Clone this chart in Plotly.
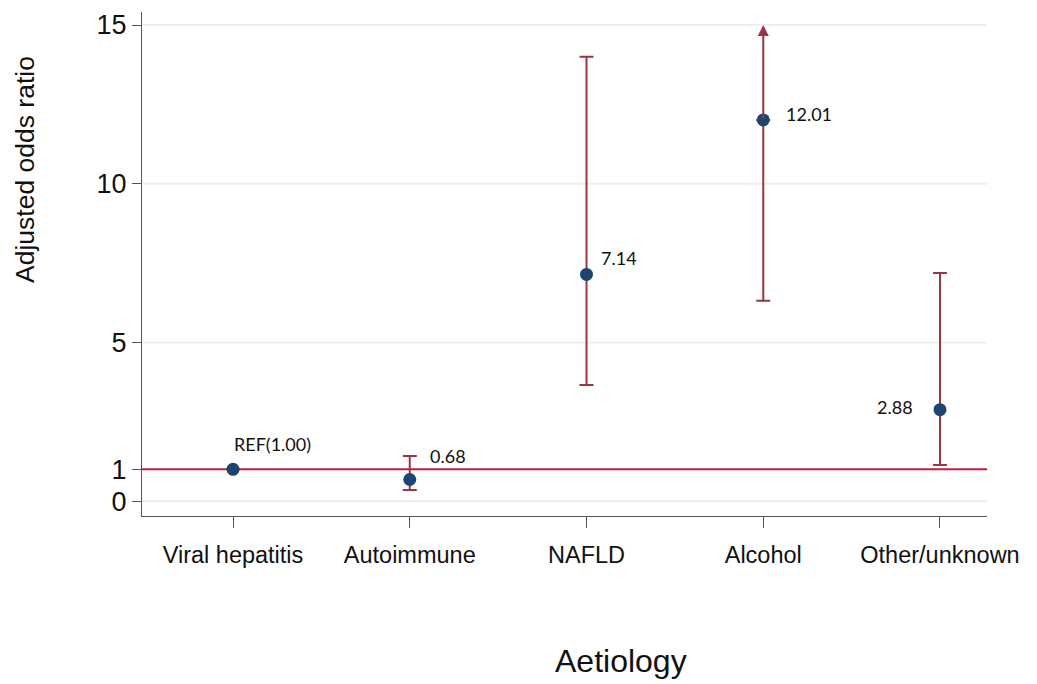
import plotly.graph_objects as go

categories = ["Viral hepatitis", "Autoimmune", "NAFLD", "Alcohol", "Other/unknown"]
odds_ratio = [1.00, 0.68, 7.14, 12.01, 2.88]
ci_low = [1.00, 0.35, 3.66, 6.31, 1.14]
ci_high = [1.00, 1.42, 14.0, 15.0, 7.19]
ci_open_top = [False, False, False, True, False]
labels = ["REF(1.00)", "0.68", "7.14", "12.01", "2.88"]
y_ticks = [0, 1, 5, 10, 15]
grid_values = [0, 5, 10, 15]
ref_value = 1

ERR = "#9b3640"
PT = "#1c4670"
REF = "#c8193c"

W, H = 1037, 684
L, T, R, B = 142, 12, 50, 168
PW, PH = W - L - R, H - T - B

plus = [0 if o else h - v for v, h, o in zip(odds_ratio, ci_high, ci_open_top)]
minus = [v - l for v, l in zip(odds_ratio, ci_low)]

fig = go.Figure()
fig.add_trace(go.Scatter(
    x=categories, y=odds_ratio, mode="markers",
    marker=dict(color=PT, size=13),
    error_y=dict(type="data", symmetric=False, array=plus, arrayminus=minus,
                 color=ERR, thickness=2, width=7),
    showlegend=False, cliponaxis=False,
))

for g in grid_values:
    fig.add_hline(y=g, line=dict(color="#e8f0f2", width=2), layer="below")
fig.add_hline(y=ref_value, line=dict(color=REF, width=2), layer="below")

# open-ended CI arrows
for i, (c, v, h, o) in enumerate(zip(categories, odds_ratio, ci_high, ci_open_top)):
    if o:
        fig.add_annotation(x=i, y=h, ax=i, ay=v, xref="x", yref="y", axref="x", ayref="y",
                           showarrow=True, arrowhead=2, arrowsize=1.1, arrowwidth=2,
                           arrowcolor=ERR, text="")

label_pos = [("left", -1, 25), ("left", 18, 24), ("left", 12, 16), ("left", 21, 6), ("right", -25, 3)]
for i, (lab, v, (anc, xs, ys)) in enumerate(zip(labels, odds_ratio, label_pos)):
    fig.add_annotation(x=i, y=v, text=lab, showarrow=False, xanchor=anc, yanchor="middle",
                       xshift=xs, yshift=ys, font=dict(family="Lato, Open Sans, sans-serif", size=18, color="#111"))

# axis titles placed from reference pixel positions
fig.add_annotation(x=(621 - L) / PW, y=-(661 - (H - B)) / PH, xref="paper", yref="paper",
                   text="Aetiology", showarrow=False, xanchor="center", yanchor="middle",
                   font=dict(family="Liberation Sans, Arial", size=32, color="#111"))
fig.add_annotation(x=-(L - 25) / PW, y=((H - B) - 170) / PH, xref="paper", yref="paper",
                   text="Adjusted odds ratio", showarrow=False, textangle=-90,
                   xanchor="center", yanchor="middle",
                   font=dict(family="Liberation Sans, Arial", size=26.5, color="#111"))

fig.update_layout(
    width=W, height=H,
    margin=dict(l=L, r=R, t=T, b=B),
    plot_bgcolor="white", paper_bgcolor="white",
    font=dict(family="Liberation Sans, Arial, sans-serif", color="#111"),
    xaxis=dict(range=[-0.515, 4.266], showgrid=False, showline=True, linecolor="#555", linewidth=1,
               ticks="outside", ticklen=11, tickcolor="#555", tickfont=dict(size=23.5),
               ticklabelstandoff=7, zeroline=False, automargin=False),
    yaxis=dict(range=[-0.47, 15.41], tickvals=y_ticks, ticktext=[str(t) for t in y_ticks],
               showgrid=False, showline=True, linecolor="#555",
               linewidth=1, ticks="outside", ticklen=9, tickcolor="#555", tickfont=dict(size=27),
               zeroline=False, automargin=False),
)

fig.write_html("out.html", config={"displayModeBar": False},
               post_script="document.body.style.margin='0';document.body.style.overflow='hidden';")
